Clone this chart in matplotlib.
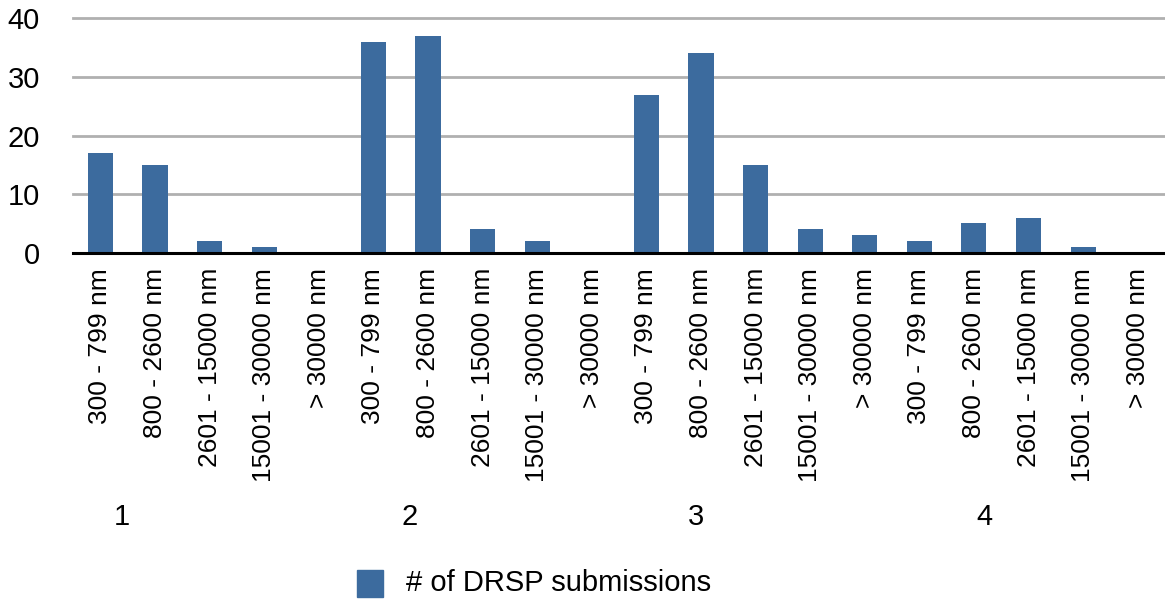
import matplotlib
matplotlib.use("Agg")
import matplotlib.pyplot as plt
from matplotlib.patches import Rectangle

plt.rcParams['font.family'] = ['Liberation Sans', 'DejaVu Sans']

ranges = ["300 - 799 nm", "800 - 2600 nm", "2601 - 15000 nm", "15001 - 30000 nm", "> 30000 nm"]
groups = ["1", "2", "3", "4"]
values = [17, 15, 2, 1, 0,
          36, 37, 4, 2, 0,
          27, 34, 15, 4, 3,
          2, 5, 6, 1, 0]
tick_labels = ranges * len(groups)
group_label_pos = [0.39, 5.66, 10.9, 16.2]
series_name = "# of DRSP submissions"
color = "#3c6b9e"

fig = plt.figure(figsize=(11.65, 6.01), dpi=100)
ax = fig.add_axes([0.0628, 0.5795, 0.9372, 0.39])

x = list(range(len(values)))
ax.bar(x, values, width=0.46, color=color, zorder=3)
ax.set_xlim(-0.5, len(values) - 0.5)
ax.set_ylim(0, 40)
ax.set_yticks([0, 10, 20, 30, 40])
ax.set_xticks(x)
ax.set_xticklabels(tick_labels, rotation=90, fontsize=19)
ax.tick_params(axis='x', length=0, pad=11)
ax.tick_params(axis='y', length=0, pad=24, labelsize=21)
for s in ['top', 'right', 'left']:
    ax.spines[s].set_visible(False)
ax.spines['bottom'].set_linewidth(2.2)
ax.spines['bottom'].set_color('black')
ax.spines['bottom'].set_zorder(4)
for yv in [10, 20, 30, 40]:
    ax.axhline(yv, color='#b0b0b0', lw=2, zorder=1, clip_on=False)

for g, p in zip(groups, group_label_pos):
    fig.text((ax.transData.transform((p, 0))[0]) / fig.bbox.width, 1 - 517 / 601, g,
             fontsize=21, ha='center', va='center')

fig.patches.append(Rectangle((357 / 1165, 1 - 597 / 601), 26 / 1165, 27 / 601,
                             transform=fig.transFigure, color=color))
fig.text(406 / 1165, 1 - 583 / 601, series_name, fontsize=21, ha='left', va='center')

fig.savefig("out.png", dpi=100)
